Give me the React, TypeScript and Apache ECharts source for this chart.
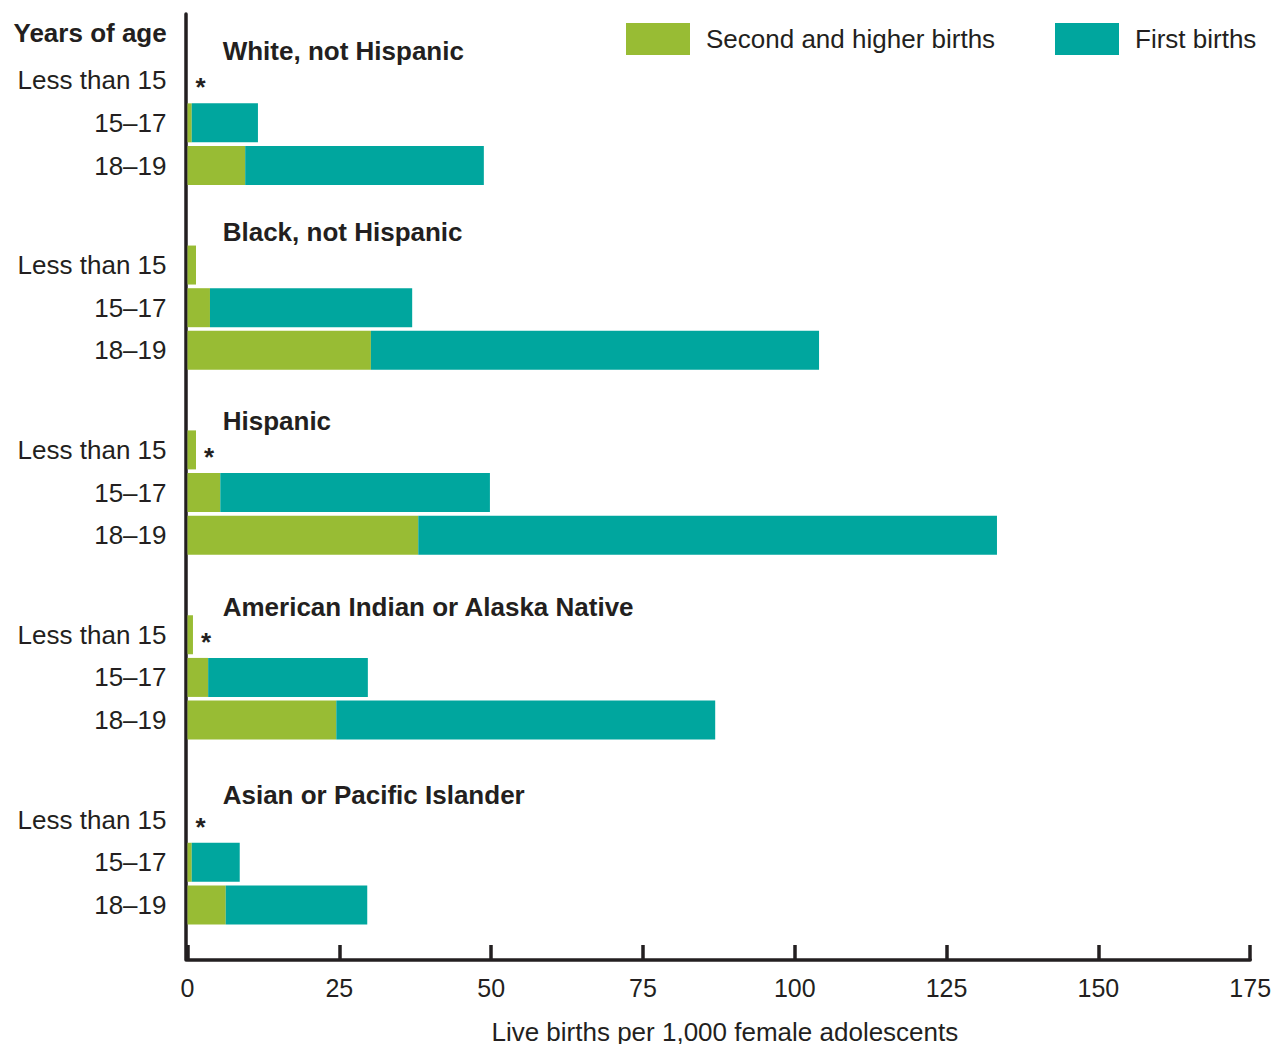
import React, { useEffect, useRef } from "react";
import * as echarts from "echarts";

// ---------------- Data ----------------
const raceGroups = [
  "White, not Hispanic",
  "Black, not Hispanic",
  "Hispanic",
  "American Indian or Alaska Native",
  "Asian or Pacific Islander",
];
const ageGroups = ["Less than 15", "15–17", "18–19"];

// values listed race by race, ages in the order of ageGroups
const secondHigherBirths = [
  0, 0.7, 9.5,
  1.4, 3.7, 30.2,
  1.4, 5.4, 38.0,
  0.9, 3.4, 24.5,
  0, 0.7, 6.3,
];
const firstBirths: (number | null)[] = [
  0, 10.9, 39.3,
  null, 33.3, 73.8,
  0, 44.4, 95.3,
  0, 26.3, 62.4,
  0, 7.9, 23.3,
];
// figure does not meet standards of reliability (shown with *)
const unreliable = [
  true, false, false,
  false, false, false,
  true, false, false,
  true, false, false,
  true, false, false,
];

const xMin = 0;
const xMax = 175;
const xInterval = 25;

const seriesNames = ["Second and higher births", "First births"];
const xAxisTitle = "Live births per 1,000 female adolescents";
const yAxisTitle = "Years of age";

// ---------------- Layout / style ----------------
const GREEN = "#98BC34";
const TEAL = "#00A69E";
const INK = "#231F20";
const FONT = '"Liberation Sans", Arial, Helvetica, sans-serif';

const ROWS_PER_GROUP = 13;
const FIRST_BAR_ROW = 4;
const BAR_ROW_STEP = 3;
const TOTAL_ROWS = 66;
const titleCenters = [51, 232, 421, 607, 795];

export default function App() {
  const ref = useRef<HTMLDivElement>(null);

  useEffect(() => {
    if (!ref.current) return;
    const chart = echarts.init(ref.current, null, { renderer: "svg" });

    const rowLabels: string[] = new Array(TOTAL_ROWS).fill("");
    const greenData: any[] = new Array(TOTAL_ROWS).fill(null);
    const tealData: any[] = new Array(TOTAL_ROWS).fill(null);

    raceGroups.forEach((_, g) => {
      ageGroups.forEach((age, a) => {
        const k = g * ageGroups.length + a;
        const row = g * ROWS_PER_GROUP + FIRST_BAR_ROW + a * BAR_ROW_STEP;
        rowLabels[row] = age;
        greenData[row] = secondHigherBirths[k];
        const fb = firstBirths[k];
        if (unreliable[k]) {
          tealData[row] = { value: fb, label: { show: true } };
        } else {
          tealData[row] = fb;
        }
      });
    });
    const categories = rowLabels.map((_, i) => "r" + i);

    const option: any = {
      animation: false,
      backgroundColor: "#ffffff",
      textStyle: { fontFamily: FONT, color: INK },
      legend: [
        {
          data: [seriesNames[0]],
          left: 626,
          top: 23,
          padding: 0,
          itemWidth: 64,
          itemHeight: 32,
          icon: "rect",
          selectedMode: false,
          textStyle: { fontSize: 26, color: INK, fontFamily: FONT, padding: [0, 0, 0, 11] },
        },
        {
          data: [seriesNames[1]],
          left: 1055,
          top: 23,
          padding: 0,
          itemWidth: 64,
          itemHeight: 32,
          icon: "rect",
          selectedMode: false,
          textStyle: { fontSize: 26, color: INK, fontFamily: FONT, padding: [0, 0, 0, 11] },
        },
      ],
      grid: [
        {
          left: 187.5,
          right: 21.8,
          top: 16.2,
          height: 938.5,
          containLabel: false,
          outerBoundsMode: "none",
        },
        {
          left: 187.5,
          right: 21.8,
          top: 14,
          bottom: 84,
          containLabel: false,
          outerBoundsMode: "none",
        },
      ],
      xAxis: [
        {
          gridIndex: 0,
          type: "value",
          min: xMin,
          max: xMax,
          interval: xInterval,
          show: false,
        },
        {
          gridIndex: 1,
          type: "value",
          min: xMin,
          max: xMax,
          interval: xInterval,
          position: "bottom",
          axisLine: { show: true, onZero: false, lineStyle: { color: INK, width: 3.5 } },
          axisTick: { show: true, inside: true, length: 15, lineStyle: { color: INK, width: 3.5 } },
          axisLabel: { fontSize: 25, margin: 15, color: INK, fontFamily: FONT },
          splitLine: { show: false },
          name: xAxisTitle,
          nameLocation: "middle",
          nameGap: 59,
          nameTextStyle: { fontSize: 26, color: INK, fontFamily: FONT, padding: [0, 0, 0, 12] },
        },
      ],
      yAxis: [
        {
          gridIndex: 0,
          type: "category",
          inverse: true,
          data: categories,
          axisLine: { show: false },
          axisTick: { show: false },
          splitLine: { show: false },
          axisLabel: {
            interval: 0,
            margin: 21,
            fontSize: 26,
            color: INK,
            fontFamily: FONT,
            formatter: (_v: string, idx: number) => rowLabels[idx],
          },
        },
        {
          gridIndex: 1,
          type: "value",
          min: 0,
          max: 1,
          position: "left",
          offset: 2,
          axisLine: { show: true, onZero: false, lineStyle: { color: INK, width: 3.5 } },
          axisTick: { show: false },
          axisLabel: { show: false },
          splitLine: { show: false },
        },
      ],
      series: [
        {
          name: seriesNames[0],
          type: "bar",
          stack: "births",
          xAxisIndex: 0,
          yAxisIndex: 0,
          barWidth: 39,
          silent: true,
          itemStyle: { color: GREEN },
          data: greenData,
        },
        {
          name: seriesNames[1],
          type: "bar",
          stack: "births",
          xAxisIndex: 0,
          yAxisIndex: 0,
          barWidth: 39,
          silent: true,
          itemStyle: { color: TEAL },
          label: {
            show: false,
            position: "right",
            distance: 8,
            formatter: "*",
            fontSize: 26,
            fontWeight: "bold",
            color: INK,
            fontFamily: FONT,
            offset: [0, 7],
          },
          data: tealData,
        },
      ],
      graphic: [
        {
          type: "text",
          x: 166.7,
          y: 33,
          style: {
            text: yAxisTitle,
            fill: INK,
            fontSize: 26,
            fontWeight: "bold",
            fontFamily: FONT,
            align: "right",
            verticalAlign: "middle",
          },
        },
        ...raceGroups.map((name, g) => ({
          type: "text",
          x: 222.7,
          y: titleCenters[g],
          style: {
            text: name,
            fill: INK,
            fontSize: 26,
            fontWeight: "bold",
            fontFamily: FONT,
            align: "left",
            verticalAlign: "middle",
          },
        })),
      ],
    };

    chart.setOption(option);
    return () => {
      chart.dispose();
    };
  }, []);

  return (
    <div
      ref={ref}
      style={{ position: "fixed", left: 0, top: 0, width: 1272, height: 1044, background: "#fff" }}
    />
  );
}
